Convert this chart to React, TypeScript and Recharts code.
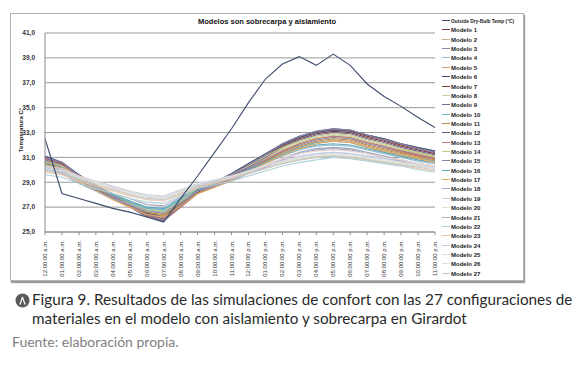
import React from 'react';
import {CartesianGrid, Legend, Line, LineChart, XAxis, YAxis} from 'recharts';

const hours = [
    '12:00:00 a.m.', '01:00:00 a.m.', '02:00:00 a.m.', '03:00:00 a.m.', '04:00:00 a.m.', '05:00:00 a.m.',
    '06:00:00 a.m.', '07:00:00 a.m.', '08:00:00 a.m.', '09:00:00 a.m.', '10:00:00 a.m.', '11:00:00 a.m.',
    '12:00:00 p.m.', '01:00:00 p.m.', '02:00:00 p.m.', '03:00:00 p.m.', '04:00:00 p.m.', '05:00:00 p.m.',
    '06:00:00 p.m.', '07:00:00 p.m.', '08:00:00 p.m.', '09:00:00 p.m.', '10:00:00 p.m.', '11:00:00 p.m.'
];

const yTicks = [25, 27, 29, 31, 33, 35, 37, 39, 41];

const outside = [32.5, 28.1, 27.7, 27.3, 26.9, 26.6, 26.2, 25.8, 27.7, 29.5, 31.4, 33.3, 35.4, 37.3, 38.5, 39.1, 38.4, 39.3, 38.4, 36.9, 35.9, 35.1, 34.2, 33.4];

const modelo1 = [31.0, 30.5, 29.5, 28.7, 27.9, 27.2, 26.4, 26.1, 27.2, 28.3, 28.9, 29.6, 30.4, 31.2, 32.0, 32.6, 33.0, 33.2, 33.1, 32.7, 32.4, 32.0, 31.7, 31.4];
const modelo2 = [30.7, 30.3, 29.4, 28.7, 28.0, 27.4, 26.8, 26.6, 27.5, 28.5, 29.0, 29.5, 30.2, 30.9, 31.6, 32.1, 32.5, 32.7, 32.6, 32.2, 31.9, 31.6, 31.3, 31.0];
const modelo3 = [30.6, 30.2, 29.3, 28.6, 27.9, 27.3, 26.7, 26.5, 27.4, 28.4, 28.9, 29.4, 30.1, 30.8, 31.5, 32.0, 32.4, 32.6, 32.5, 32.1, 31.8, 31.5, 31.2, 30.9];
const modelo4 = [30.2, 29.9, 29.1, 28.5, 27.9, 27.4, 26.9, 26.8, 27.6, 28.5, 28.9, 29.3, 29.9, 30.5, 31.1, 31.6, 31.9, 32.0, 31.9, 31.6, 31.3, 31.0, 30.7, 30.5];
const modelo5 = [30.4, 30.0, 29.1, 28.4, 27.7, 27.1, 26.5, 26.3, 27.2, 28.2, 28.7, 29.2, 29.9, 30.6, 31.3, 31.8, 32.2, 32.4, 32.3, 31.9, 31.6, 31.3, 31.0, 30.7];
const modelo6 = [31.1, 30.6, 29.6, 28.8, 28.0, 27.3, 26.5, 26.2, 27.3, 28.4, 29.0, 29.7, 30.5, 31.3, 32.1, 32.7, 33.1, 33.3, 33.2, 32.8, 32.5, 32.1, 31.8, 31.5];
const modelo7 = [30.9, 30.4, 29.4, 28.6, 27.8, 27.1, 26.3, 26.0, 27.1, 28.2, 28.8, 29.5, 30.3, 31.1, 31.9, 32.5, 32.9, 33.1, 33.0, 32.6, 32.3, 31.9, 31.6, 31.3];
const modelo8 = [30.8, 30.4, 29.5, 28.8, 28.1, 27.5, 26.9, 26.7, 27.6, 28.6, 29.1, 29.6, 30.3, 31.0, 31.7, 32.2, 32.6, 32.8, 32.7, 32.3, 32.0, 31.7, 31.4, 31.1];
const modelo9 = [30.8, 30.3, 29.3, 28.5, 27.7, 27.0, 26.2, 25.9, 27.0, 28.1, 28.7, 29.4, 30.2, 31.0, 31.8, 32.4, 32.8, 33.0, 32.9, 32.5, 32.2, 31.8, 31.5, 31.2];
const modelo10 = [30.4, 30.1, 29.2, 28.6, 28.0, 27.4, 26.9, 26.8, 27.6, 28.5, 28.9, 29.4, 30.0, 30.7, 31.3, 31.8, 32.2, 32.3, 32.2, 31.8, 31.5, 31.2, 30.9, 30.7];
const modelo11 = [30.5, 30.1, 29.2, 28.5, 27.8, 27.2, 26.6, 26.4, 27.3, 28.3, 28.8, 29.3, 30.0, 30.7, 31.4, 31.9, 32.3, 32.5, 32.4, 32.0, 31.7, 31.4, 31.1, 30.8];
const modelo12 = [31.0, 30.4, 29.4, 28.6, 27.8, 27.1, 26.3, 26.0, 27.1, 28.3, 28.9, 29.6, 30.4, 31.2, 32.0, 32.6, 33.0, 33.2, 33.1, 32.8, 32.5, 32.1, 31.8, 31.5];
const modelo13 = [30.9, 30.4, 29.4, 28.6, 27.8, 27.1, 26.3, 26.0, 27.0, 28.1, 28.6, 29.3, 30.0, 30.8, 31.5, 32.1, 32.5, 32.7, 32.6, 32.2, 31.9, 31.5, 31.2, 30.9];
const modelo14 = [30.7, 30.3, 29.3, 28.6, 27.9, 27.3, 26.7, 26.6, 27.5, 28.5, 29.0, 29.6, 30.3, 31.1, 31.8, 32.3, 32.7, 32.9, 32.8, 32.4, 32.1, 31.7, 31.4, 31.1];
const modelo15 = [31.0, 30.6, 29.5, 28.7, 27.9, 27.2, 26.4, 26.1, 27.2, 28.3, 28.9, 29.6, 30.4, 31.2, 32.1, 32.7, 33.1, 33.3, 33.2, 32.8, 32.4, 32.1, 31.7, 31.4];
const modelo16 = [30.3, 30.0, 29.2, 28.6, 28.0, 27.5, 27.0, 26.9, 27.7, 28.6, 29.0, 29.4, 30.0, 30.6, 31.2, 31.7, 32.0, 32.1, 32.0, 31.7, 31.4, 31.1, 30.8, 30.6];
const modelo17 = [30.3, 29.9, 29.0, 28.3, 27.6, 27.0, 26.4, 26.2, 27.1, 28.1, 28.6, 29.1, 29.8, 30.5, 31.2, 31.7, 32.1, 32.3, 32.2, 31.8, 31.5, 31.2, 30.9, 30.6];
const modelo18 = [30.0, 29.7, 28.9, 28.3, 27.7, 27.2, 26.7, 26.6, 27.4, 28.3, 28.7, 29.1, 29.7, 30.3, 30.9, 31.4, 31.7, 31.8, 31.7, 31.4, 31.1, 30.8, 30.5, 30.3];
const modelo19 = [30.2, 30.0, 29.5, 29.1, 28.7, 28.3, 28.0, 27.9, 28.4, 28.9, 29.2, 29.5, 29.9, 30.3, 30.7, 31.0, 31.3, 31.4, 31.3, 31.1, 30.9, 30.7, 30.5, 30.3];
const modelo20 = [30.0, 29.8, 29.3, 28.9, 28.5, 28.1, 27.8, 27.7, 28.2, 28.8, 29.1, 29.4, 29.8, 30.2, 30.6, 30.9, 31.1, 31.2, 31.1, 30.9, 30.7, 30.5, 30.3, 30.1];
const modelo21 = [30.1, 29.8, 29.1, 28.6, 28.1, 27.7, 27.2, 27.1, 27.8, 28.6, 29.0, 29.3, 29.7, 30.2, 30.8, 31.3, 31.6, 31.7, 31.6, 31.3, 31.0, 30.7, 30.4, 30.2];
const modelo22 = [29.6, 29.4, 28.9, 28.5, 28.1, 27.7, 27.4, 27.3, 27.9, 28.5, 28.8, 29.1, 29.5, 29.9, 30.3, 30.6, 30.8, 31.0, 30.9, 30.7, 30.5, 30.3, 30.0, 29.8];
const modelo23 = [29.8, 29.6, 29.1, 28.7, 28.3, 27.9, 27.6, 27.5, 28.0, 28.6, 28.9, 29.3, 29.7, 30.1, 30.5, 30.8, 31.0, 31.1, 31.0, 30.8, 30.6, 30.4, 30.1, 29.9];
const modelo24 = [30.1, 29.9, 29.4, 29.0, 28.6, 28.2, 27.9, 27.8, 28.3, 28.8, 29.1, 29.4, 29.9, 30.3, 30.7, 31.1, 31.3, 31.4, 31.3, 31.1, 30.9, 30.6, 30.4, 30.2];
const modelo25 = [30.3, 30.1, 29.5, 29.0, 28.5, 28.0, 27.6, 27.5, 28.1, 28.7, 29.0, 29.4, 29.9, 30.4, 30.9, 31.3, 31.5, 31.6, 31.5, 31.3, 31.0, 30.8, 30.5, 30.3];
const modelo26 = [30.1, 29.9, 29.4, 29.0, 28.6, 28.2, 27.9, 27.8, 28.3, 28.9, 29.2, 29.5, 29.9, 30.3, 30.7, 31.0, 31.2, 31.3, 31.2, 31.0, 30.8, 30.6, 30.4, 30.2];
const modelo27 = [29.9, 29.7, 29.2, 28.8, 28.4, 28.0, 27.7, 27.6, 28.1, 28.7, 29.0, 29.3, 29.7, 30.1, 30.5, 30.8, 31.0, 31.1, 31.0, 30.8, 30.6, 30.4, 30.2, 30.0];

const models = [
    modelo1, modelo2, modelo3, modelo4, modelo5, modelo6, modelo7, modelo8, modelo9,
    modelo10, modelo11, modelo12, modelo13, modelo14, modelo15, modelo16, modelo17, modelo18,
    modelo19, modelo20, modelo21, modelo22, modelo23, modelo24, modelo25, modelo26, modelo27
];

const modelColors = [
    '#7a3b3b', '#c6b38c', '#8a88a6', '#94bcd0', '#d29a6c', '#3e5070', '#7e3d39', '#cdcd98', '#76689a',
    '#6cb8c9', '#b98548', '#52667e', '#bb7676', '#bcc886', '#8e7fab', '#5aa8bc', '#e3a85e', '#98aac0',
    '#cfcfd7', '#dbe3c9', '#aaa9bf', '#acd3db', '#e9c5a7', '#bfcde2', '#ebd4d4', '#dedee5', '#c7c7c7'
];

const modelNames = models.map((_, k) => 'Modelo ' + (k + 1));
const outsideName = 'Outside Dry-Bulb Temp (°C)';
const legendOrder = [outsideName, ...modelNames];

const outsideColor = '#3c4d6c';

const data = hours.map((hour, i) => {
    const row: Record<string, string | number> = {hour, outside: outside[i]};
    models.forEach((m, k) => {
        row['m' + (k + 1)] = m[i];
    });
    return row;
});

const XTick = (props: any) => {
    const {x, y, payload} = props;
    return (
        <text x={x} y={y + 3} transform={`rotate(-90, ${x}, ${y + 3})`} textAnchor="end" dy={2}
              fontSize={6} fill="#333" fontFamily="Liberation Sans, Arial, sans-serif">
            {payload.value}
        </text>
    );
};

// legend drawn in the series order, outside temp first
const LegendList = (props: any) => {
    const items = [...(props.payload || [])].sort(
        (a: any, b: any) => legendOrder.indexOf(a.value) - legendOrder.indexOf(b.value));
    return (
        <svg width={100} height={265} style={{display: 'block'}}>
            {items.map((entry: any, i: number) => {
                const y = Math.round(5 + i * 9.36) + 0.5;
                return (
                    <g key={entry.value}>
                        <line x1={1} x2={9} y1={y} y2={y} stroke={entry.color} strokeWidth={1}/>
                        <text x={10} y={y} dy={2} fontSize={entry.value === outsideName ? 4.8 : 6}
                              fontWeight="bold" fill="#222" fontFamily="Liberation Sans, Arial, sans-serif">
                            {entry.value}
                        </text>
                    </g>
                );
            })}
        </svg>
    );
};

const App: React.FC = () => {
    return (
        <div style={{position: 'absolute', left: 0, top: 0, width: 580, height: 371, background: '#fff'}}>
            <div style={{
                position: 'absolute', left: 10, top: 13, width: 512, height: 266,
                border: '1px solid #b4b4b4', boxShadow: '1px 2px 1px #9a9a9a'
            }}/>
            <div style={{
                position: 'absolute', left: 160, top: 17, width: 214, textAlign: 'center',
                fontFamily: 'Liberation Sans, Arial, sans-serif', fontSize: 7.5, fontWeight: 'bold', color: '#111'
            }}>
                Modelos son sobrecarpa y aislamiento
            </div>
            <div style={{
                position: 'absolute', left: 21, top: 130, transform: 'translate(-50%, -50%) rotate(-90deg)',
                fontFamily: 'Liberation Sans, Arial, sans-serif', fontSize: 6, fontWeight: 'bold', color: '#222',
                whiteSpace: 'nowrap'
            }}>
                Temperatura C°
            </div>
            <div style={{position: 'absolute', left: 0, top: 0}}>
                <LineChart width={580} height={290} data={data}
                           margin={{top: 33, right: 145, bottom: 8, left: 10}}>
                    <CartesianGrid vertical={false} stroke="#9a9a9a"/>
                    <XAxis dataKey="hour" interval={0} height={50} tick={<XTick/>}
                           stroke="#8a8a8a" tickSize={3}/>
                    <YAxis domain={[25, 41]} ticks={yTicks} width={35} stroke="#8a8a8a" tickLine={false}
                           tickMargin={4} allowDataOverflow
                           tickFormatter={(v: number) => v.toFixed(1).replace('.', ',')}
                           tick={{fontSize: 6.5, fontWeight: 'bold', fill: '#333', fontFamily: 'Liberation Sans, Arial, sans-serif'}}/>
                    <Legend layout="vertical" align="center" verticalAlign="middle" content={<LegendList/>}
                            wrapperStyle={{left: 441, top: 15, width: 100, height: 265}}/>
                    {models.map((_, k) => (
                        <Line key={k} dataKey={'m' + (k + 1)} name={modelNames[k]} stroke={modelColors[k]}
                              strokeWidth={1.1} dot={false} isAnimationActive={false}/>
                    ))}
                    <Line dataKey="outside" name={outsideName} stroke={outsideColor}
                          strokeWidth={1.1} dot={false} isAnimationActive={false}/>
                </LineChart>
            </div>
            <svg style={{position: 'absolute', left: 15, top: 293}} width={15} height={15}>
                <circle cx={7.5} cy={7.5} r={7} fill="#5a5a5a"/>
                <path d="M4.3 11.5 L7 3.8 L8 3.8 L10.7 11.5 L9.3 11.5 L7.5 5.8 L5.7 11.5 Z" fill="#fff"/>
            </svg>
            <div style={{
                position: 'absolute', left: 32, top: 290, width: 560, fontFamily: 'Lato, "Open Sans", sans-serif',
                fontSize: 15.25, lineHeight: '19px', color: '#2a2a2a'
            }}>
                Figura 9. Resultados de las simulaciones de confort con las 27 configuraciones de<br/>
                materiales en el modelo con aislamiento y sobrecarpa en Girardot
            </div>
            <div style={{
                position: 'absolute', left: 12, top: 333, fontFamily: 'Lato, "Open Sans", sans-serif',
                fontSize: 14, color: '#808080'
            }}>
                Fuente: elaboración propia.
            </div>
        </div>
    );
};

export default App;
